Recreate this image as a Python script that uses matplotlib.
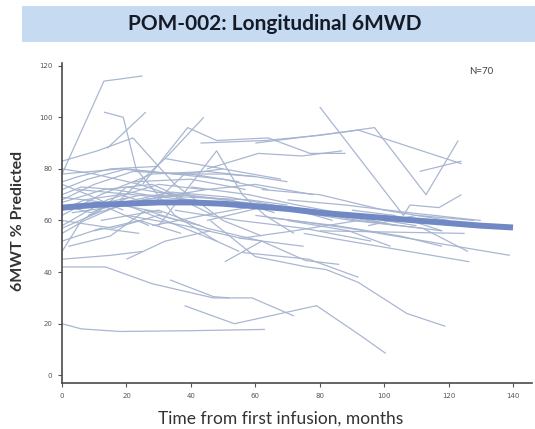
"""POM-002 longitudinal 6MWD spaghetti plot."""

import matplotlib

matplotlib.use("Agg")
import matplotlib.pyplot as plt
from matplotlib.patches import Rectangle

# per-patient follow-up (months) and 6MWT % predicted
months = [
    [0, 13, 25], [13, 19, 23, 35, 48, 55], [0, 11, 22, 35, 50, 62], [14, 26],
    [18, 32, 44], [25, 39, 48, 64, 77, 88], [43, 63, 80, 97, 113, 123],
    [45, 61, 74.5, 87], [30, 48, 56, 63, 72], [80, 106, 108, 117, 124],
    [60, 92, 124], [111, 124], [0, 13.5, 28, 47, 59, 72], [33.5, 47, 52],
    [0, 6, 18, 40, 63], [38, 53.5, 79, 92, 100.5], [0, 15, 25],
    [46, 60, 76, 82, 92, 107, 119], [50.5, 62, 75.6, 86], [70, 89, 102],
    [75, 89, 126.5], [60, 89, 139], [80, 125], [56, 76.6, 92],
    [0, 8, 20, 35], [0, 10, 22, 40, 55], [0, 5, 15, 30], [0, 12, 28, 45, 60],
    [0, 6, 16, 26], [0, 14, 30, 44], [0, 9, 21], [0, 10, 25, 40, 58, 70],
    [0, 7, 18, 31], [0, 12, 24], [0, 16, 30, 43], [2, 15, 26, 36],
    [0, 20, 32, 48], [0, 8, 19], [0, 18, 35, 50, 64], [3, 14, 27],
    [0, 11, 20, 34, 47], [5, 22, 40, 55], [0, 13, 28, 42], [8, 25, 38, 52, 66],
    [10, 24, 37], [12, 30, 45, 62], [15, 34, 52, 70, 84], [20, 38, 56, 75],
    [22, 40, 57], [25, 45, 60, 78], [28, 44, 62, 80, 100],
    [30, 50, 70, 92, 118], [35, 55, 75, 96], [40, 58, 73, 90, 110],
    [45, 65, 85, 104], [50, 70, 90, 112, 126], [55, 72, 92],
    [62, 80, 100, 120], [65, 85, 105, 118], [70, 88, 108, 130],
    [20, 32, 46], [0, 6, 14], [0, 10, 24, 36], [32, 50, 68],
    [35, 50, 60, 70], [90, 103, 118], [95, 110, 128], [0, 7, 18, 26],
    [28, 38, 50],
]
pct_pred = [
    [78, 114, 116], [102, 100, 80, 62, 52, 48], [83, 87, 92, 74, 60, 54], [88, 102],
    [68, 84, 100], [74, 96, 91, 92, 86, 86], [90, 91, 93, 96, 70, 91],
    [80, 86, 85, 87], [58, 87, 70, 62, 55], [104, 62, 66, 65, 70],
    [90, 95, 82], [79, 83], [42, 42, 35.5, 30, 30, 23], [37, 30.5, 30],
    [20, 18, 17, 17.3, 17.8], [27, 20, 27, 16, 8.5], [45, 46.5, 48],
    [60, 46, 42, 41, 36, 24, 19], [44, 52, 44.5, 43], [60, 56, 50],
    [55, 52, 44], [62, 57, 46.5], [56, 55], [47.6, 45, 38],
    [72, 76, 80, 78], [68, 74, 79, 78, 75], [75, 77, 80, 81], [62, 70, 78, 79, 77],
    [70, 73, 72, 70], [58, 68, 74, 72], [66, 63, 69], [64, 66, 70, 69, 68, 66],
    [55, 60, 66, 63], [52, 57, 55], [60, 57, 62, 58], [50, 54, 64, 60],
    [69, 66, 60, 52], [74, 70, 64], [78, 80, 78, 76, 72], [63, 65, 58],
    [57, 63, 73, 70, 62], [72, 70, 68, 66], [67, 72, 74, 66], [62, 68, 70, 68, 63],
    [56, 60, 55], [60, 64, 57, 52], [66, 71, 69, 65, 60], [62, 58, 53, 50],
    [75, 76, 72], [68, 72, 74, 70], [58, 62, 66, 63, 59],
    [71, 68, 65, 60, 56], [64, 60, 57, 52], [73, 70, 66, 62, 58],
    [60, 66, 63, 58], [66, 64, 60, 57, 48], [53, 56, 60],
    [72, 70, 64, 60], [61, 58, 54, 50], [68, 66, 63, 60],
    [45, 52, 56], [48, 60, 66], [80, 78, 74, 69], [84, 80, 76],
    [78, 78, 77, 75], [64, 62, 56], [58, 62, 60], [64, 68, 70, 67],
    [66, 78, 80],
]

# smoothed group trend
trend_months = [0, 10, 20, 30, 40, 50, 60, 70, 80, 90, 100, 110, 120, 130, 140]
trend_pct = [65, 66, 66.5, 67, 67, 66.5, 65.5, 64.5, 63, 62, 61, 60, 59, 58, 57.3]

x_ticks = [0, 20, 40, 60, 80, 100, 120, 140]
y_ticks = [0, 20, 40, 60, 80, 100, 120]

fig = plt.figure(figsize=(5.35, 4.29), dpi=100)
fig.patches.append(Rectangle((0.041, 0.902), 0.959, 0.084, transform=fig.transFigure,
                             facecolor="#c6daf1", edgecolor="none", zorder=0))
fig.text(0.514, 0.944, "POM-002: Longitudinal 6MWD", ha="center", va="center",
         fontsize=15, fontweight="bold", family="Lato", color="#141a26")

ax = fig.add_axes([0.116, 0.107, 0.879, 0.746])
for m, v in zip(months, pct_pred):
    ax.plot(m, v, color="#a5b3cf", lw=0.9, alpha=0.95, solid_capstyle="butt")
ax.plot(trend_months, trend_pct, color="#7089c4", lw=4.3, solid_capstyle="butt")

ax.set_xlim(0, 146)
ax.set_ylim(-3, 121)
ax.set_xticks(x_ticks)
ax.set_yticks(y_ticks)
ax.tick_params(labelsize=5, colors="#555555", length=3, width=0.8, pad=4)
for side in ["top", "right"]:
    ax.spines[side].set_visible(False)
for side in ["left", "bottom"]:
    ax.spines[side].set_color("#4a4a4a")
    ax.spines[side].set_linewidth(1.2)

ax.text(0.892, 0.975, "N=70", transform=ax.transAxes, ha="center", va="center",
        fontsize=7, color="#444444", family="Lato")
ax.set_xlabel("Time from first infusion, months", fontsize=12.5, family="Lato",
              color="#333333")
ax.xaxis.set_label_coords(0.465, -0.085)
fig.text(0.034, 0.485, "6MWT % Predicted", rotation=90, ha="center", va="center",
         fontsize=11.5, fontweight="bold", family="Lato", color="#333333")

fig.savefig("out.png", dpi=100)
